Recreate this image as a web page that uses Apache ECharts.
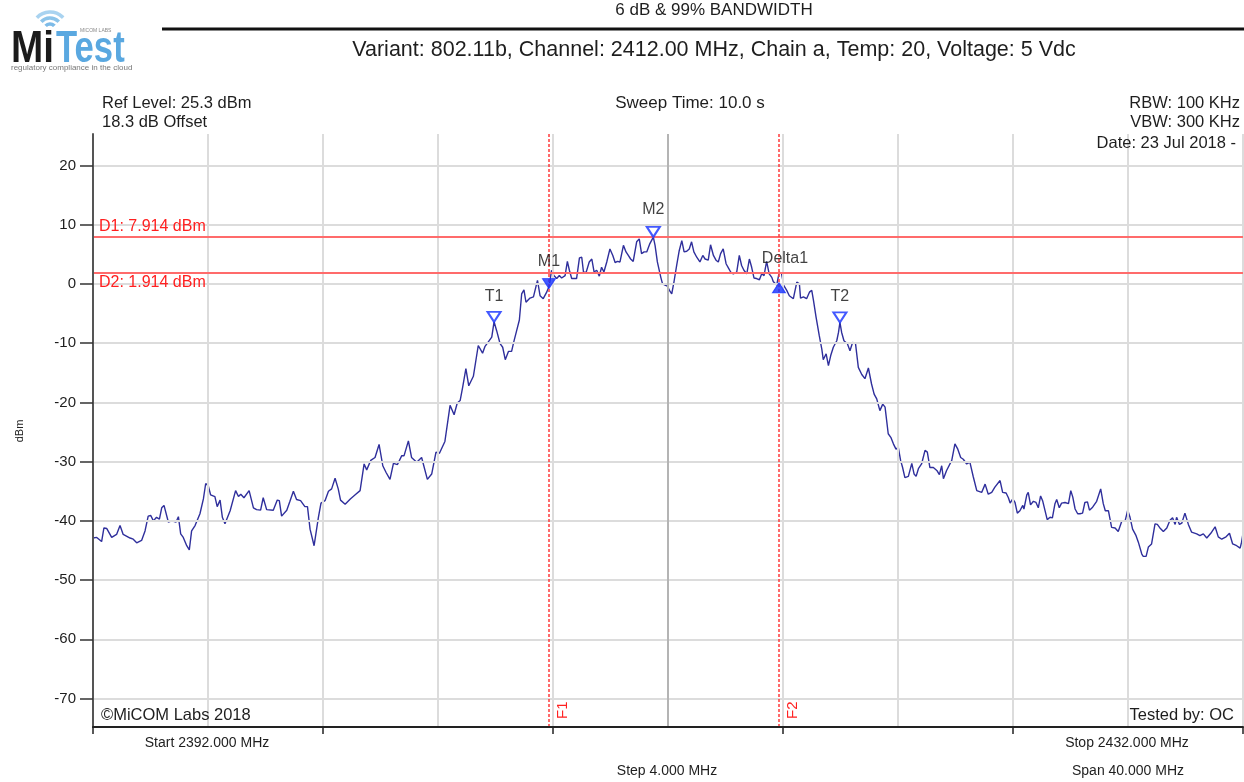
<!DOCTYPE html>
<html>
<head>
<meta charset="utf-8">
<title>6 dB &amp; 99% BANDWIDTH</title>
<script src="https://cdn.jsdelivr.net/npm/echarts@6/dist/echarts.min.js"></script>
<style>
  html, body { margin: 0; padding: 0; background: #fff; }
  #chart { width: 1244px; height: 782px; }
</style>
</head>
<body>
<div id="chart"></div>
<script>
// spectrum trace (MHz / dBm)
const traceFreq = [
  2392.00, 2392.13, 2392.30, 2392.38, 2392.48, 2392.65, 2392.82, 2392.94, 2393.05, 2393.29,
  2393.40, 2393.52, 2393.69, 2393.81, 2393.92, 2394.01, 2394.10, 2394.21, 2394.31, 2394.39,
  2394.47, 2394.62, 2394.74, 2394.89, 2394.97, 2395.05, 2395.14, 2395.26, 2395.35, 2395.43,
  2395.55, 2395.72, 2395.84, 2395.92, 2396.01, 2396.09, 2396.24, 2396.32, 2396.42, 2396.50,
  2396.59, 2396.77, 2396.96, 2397.06, 2397.14, 2397.25, 2397.43, 2397.58, 2397.69, 2397.83,
  2397.92, 2398.04, 2398.27, 2398.41, 2398.48, 2398.56, 2398.74, 2398.85, 2398.97, 2399.08,
  2399.22, 2399.37, 2399.46, 2399.55, 2399.69, 2399.84, 2399.93, 2400.07, 2400.19,
  2400.30, 2400.42, 2400.53, 2400.61, 2400.77, 2400.95, 2401.12, 2401.29, 2401.43, 2401.52,
  2401.66, 2401.81, 2401.95, 2402.08, 2402.19, 2402.33, 2402.45, 2402.59, 2402.74, 2402.82,
  2402.97, 2403.08, 2403.26, 2403.43, 2403.63, 2403.78, 2403.93, 2404.05, 2404.24, 2404.42,
  2404.56, 2404.67, 2404.77, 2404.86, 2404.97, 2405.07, 2405.23, 2405.40, 2405.55, 2405.63,
  2405.75, 2405.87, 2405.95, 2406.04, 2406.16, 2406.25, 2406.34, 2406.45, 2406.56, 2406.64,
  2406.74, 2406.83, 2406.91, 2406.99, 2407.06, 2407.20, 2407.32, 2407.46, 2407.55, 2407.66,
  2407.78, 2407.87, 2407.95, 2408.03, 2408.13, 2408.22, 2408.30, 2408.42, 2408.50, 2408.57,
  2408.65, 2408.71, 2408.82, 2408.92, 2409.00, 2409.06, 2409.15, 2409.26, 2409.35, 2409.43,
  2409.52, 2409.61, 2409.69, 2409.77, 2409.87, 2409.98, 2410.08, 2410.16, 2410.24, 2410.33,
  2410.45, 2410.54, 2410.62, 2410.70, 2410.79, 2410.91, 2411.00, 2411.08, 2411.17, 2411.26,
  2411.37, 2411.49, 2411.55, 2411.63, 2411.75, 2411.81, 2411.90, 2411.98, 2412.05, 2412.13,
  2412.21, 2412.30, 2412.39, 2412.48, 2412.56, 2412.65, 2412.74, 2412.82, 2412.90, 2413.00,
  2413.11, 2413.21, 2413.29, 2413.40, 2413.48, 2413.58, 2413.67, 2413.75, 2413.83, 2413.92,
  2414.02, 2414.10, 2414.18, 2414.27, 2414.39, 2414.48, 2414.56, 2414.64, 2414.74, 2414.83,
  2414.91, 2414.99, 2415.08, 2415.18, 2415.26, 2415.34, 2415.43, 2415.52, 2415.61, 2415.66,
  2415.78, 2415.87, 2415.95, 2416.03, 2416.13, 2416.22, 2416.36, 2416.48, 2416.57, 2416.61,
  2416.71, 2416.82, 2416.92, 2417.00, 2417.06, 2417.15, 2417.26, 2417.35, 2417.40, 2417.50,
  2417.58, 2417.66, 2417.75, 2417.87, 2417.93, 2417.98, 2418.04, 2418.12, 2418.24, 2418.33,
  2418.42, 2418.52, 2418.62, 2418.74, 2418.85, 2418.97, 2419.08, 2419.17, 2419.26, 2419.37,
  2419.47, 2419.55, 2419.66, 2419.75, 2419.84, 2419.93, 2420.01, 2420.09, 2420.16, 2420.24,
  2420.36, 2420.48, 2420.56, 2420.63, 2420.71, 2420.82, 2420.94, 2421.02, 2421.11, 2421.23,
  2421.35, 2421.44, 2421.52, 2421.58, 2421.69, 2421.87, 2421.98, 2422.08, 2422.18, 2422.27,
  2422.39, 2422.50, 2422.62, 2422.74, 2422.91, 2423.03, 2423.14, 2423.26, 2423.37, 2423.55,
  2423.64, 2423.76, 2423.84, 2423.90, 2423.99, 2424.07, 2424.15, 2424.24, 2424.34, 2424.38,
  2424.48, 2424.53, 2424.61, 2424.71, 2424.80, 2424.88, 2424.96, 2425.03, 2425.11, 2425.19,
  2425.29, 2425.37, 2425.46, 2425.52, 2425.61, 2425.69, 2425.81, 2425.93, 2426.01, 2426.08,
  2426.16, 2426.25, 2426.33, 2426.42, 2426.50, 2426.59, 2426.66, 2426.77, 2426.91, 2427.05,
  2427.14, 2427.21, 2427.32, 2427.43, 2427.55, 2427.66, 2427.78, 2427.90, 2427.99, 2428.07,
  2428.16, 2428.28, 2428.36, 2428.48, 2428.53, 2428.63, 2428.71, 2428.82, 2428.94, 2429.02,
  2429.11, 2429.23, 2429.35, 2429.46, 2429.55, 2429.64, 2429.69, 2429.79, 2429.87, 2429.98,
  2430.10, 2430.21, 2430.39, 2430.50, 2430.62, 2430.74, 2430.88, 2431.03, 2431.14, 2431.26,
  2431.41, 2431.53, 2431.64, 2431.78, 2431.90, 2431.95, 2432.00
];
const traceLevel = [
  -42.9, -42.8, -43.5, -41.2, -41.3, -42.8, -42.3, -40.8, -42.3, -42.9,
  -43.1, -43.7, -43.3, -41.7, -39.2, -39.1, -40.0, -39.4, -39.7, -37.8,
  -37.4, -40.2, -40.0, -40.2, -39.3, -42.2, -42.8, -44.2, -44.9, -41.7,
  -40.8, -38.8, -36.3, -33.7, -34.1, -35.6, -35.9, -37.6, -36.5, -39.4,
  -40.5, -38.3, -34.9, -35.9, -35.5, -36.1, -34.9, -37.8, -38.1, -38.2,
  -36.1, -38.1, -38.2, -36.5, -36.6, -39.2, -38.2, -36.7, -35.0, -36.4,
  -36.6, -37.6, -37.6, -41.4, -44.2, -39.4, -37.0, -36.6, -35.0,
  -34.6, -32.8, -34.6, -36.5, -37.2, -36.3, -35.6, -34.9, -30.4, -31.4,
  -29.8, -29.3, -27.1, -30.7, -31.8, -33.0, -30.3, -30.5, -29.0, -29.0,
  -26.5, -29.3, -30.1, -29.3, -33.0, -32.1, -28.4, -28.6, -26.6, -20.5,
  -22.1, -20.1, -19.7, -17.4, -14.3, -17.2, -15.6, -10.4, -11.7, -10.6,
  -9.8, -9.0, -6.4, -7.9, -10.1, -10.7, -12.8, -11.4, -11.4, -9.7,
  -7.8, -6.1, -1.7, -1.0, -3.1, -2.4, -2.2, 0.6, -2.0, -2.5,
  -1.4, -0.3, 2.3, 1.4, 0.9, 1.4, 1.0, 1.4, 3.8, 2.3,
  0.9, 0.6, 0.9, 4.4, 4.5, 2.0, 1.9, 3.7, 4.2, 2.0,
  2.3, 1.3, 2.8, 2.0, 3.7, 5.9, 4.8, 3.6, 3.8, 3.7,
  6.5, 5.4, 4.8, 4.2, 3.8, 7.1, 7.6, 5.1, 5.4, 5.4,
  6.8, 7.9, 6.5, 3.7, 1.1, 0.0, -0.2, -0.4, -1.1, -1.7,
  0.4, 3.1, 5.6, 7.3, 5.4, 5.5, 5.9, 7.1, 5.4, 4.5,
  3.7, 4.8, 4.2, 4.0, 6.6, 4.8, 4.0, 3.7, 5.1, 5.9,
  3.4, 2.7, 2.0, 1.7, 2.0, 4.8, 3.1, 2.3, 1.7, 4.2,
  2.8, 1.0, 0.9, 0.7, 1.7, 1.4, 3.8, 1.7, 1.1, 0.4,
  -0.2, 2.0, 1.7, -0.3, -1.1, -2.0, -2.5, 0.3, 0.0, -2.4,
  -2.2, -2.5, -1.4, -1.1, -2.8, -5.6, -8.7, -11.0, -12.8, -11.8,
  -13.8, -12.1, -10.7, -9.6, -8.2, -6.5, -8.2, -9.6, -10.1, -11.3,
  -9.9, -10.0, -14.1, -15.3, -16.0, -14.2, -16.9, -18.6, -19.4, -21.4,
  -20.3, -20.8, -25.3, -25.9, -27.0, -27.9, -27.6, -29.8, -31.0, -32.7,
  -32.5, -30.3, -32.1, -32.5, -31.2, -30.4, -28.1, -28.4, -31.0, -31.0,
  -31.5, -32.2, -30.7, -32.9, -31.5, -29.8, -27.0, -27.9, -29.3, -29.6,
  -30.4, -30.1, -32.6, -34.9, -35.2, -33.8, -35.5, -35.2, -34.3, -33.2,
  -35.2, -35.3, -36.1, -37.0, -36.3, -36.9, -38.7, -38.3, -37.4, -38.0,
  -35.6, -35.2, -37.3, -36.7, -36.9, -37.8, -35.8, -36.6, -38.2, -39.8,
  -39.4, -39.5, -37.1, -36.4, -37.8, -37.0, -36.9, -37.1, -34.9, -36.0,
  -38.0, -38.8, -38.8, -38.7, -36.9, -36.8, -38.2, -37.7, -36.7, -34.6,
  -37.1, -38.3, -38.3, -41.1, -41.2, -41.8, -40.1, -40.0, -38.2, -39.4,
  -41.4, -42.5, -43.6, -45.6, -46.0, -46.0, -44.4, -43.9, -40.5, -40.6,
  -41.2, -41.8, -41.2, -39.9, -39.5, -40.6, -39.4, -40.6, -40.4, -38.7,
  -40.6, -41.9, -42.2, -42.5, -42.2, -42.9, -42.1, -41.0, -42.7, -43.1,
  -42.7, -42.1, -43.9, -44.2, -44.6, -43.6, -42.1
];

// markers
const markerNames = ['T1', 'M1', 'M2', 'Delta1', 'T2'];
const markerFreq = [2405.95, 2407.86, 2411.49, 2415.86, 2417.98];
const markerLevel = [-6.4, -0.8, 7.914, 0.2, -6.5];

// display lines
const displayLineNames = ['D1', 'D2'];
const displayLineLevel = [7.914, 1.914];
const freqLineNames = ['F1', 'F2'];
const freqLineFreq = [2407.86, 2415.86];

// axes
const yTicks = [-70, -60, -50, -40, -30, -20, -10, 0, 10, 20];
const xGrid = [2392, 2396, 2400, 2404, 2408, 2412, 2416, 2420, 2424, 2428, 2432];
const xMajorTicks = [2392, 2400, 2408, 2416, 2424, 2432];
const centerFreq = 2412;

const FONT = '"Liberation Sans", Arial, sans-serif';
const LOGO_FONT = 'bold 45px "Liberation Sans", Arial, sans-serif';
const BLUE = '#1430ff';

const chart = echarts.init(document.getElementById('chart'));

const traceData = traceFreq.map((f, i) => [f, traceLevel[i]]);

// filled triangles for M1 / Delta1, hollow for the others; Delta1 points up
const markerSymbols = markerNames.map((name, i) => {
  const filled = name === 'M1' || name === 'Delta1';
  const up = name === 'Delta1';
  return {
    value: [markerFreq[i], markerLevel[i]],
    symbol: 'triangle',
    symbolSize: [13, 10],
    symbolRotate: up ? 0 : 180,
    symbolOffset: [0, up ? 5 : -5],
    itemStyle: filled
      ? { color: BLUE, borderColor: BLUE, borderWidth: 1 }
      : { color: '#fff', borderColor: BLUE, borderWidth: 2 }
  };
});

const labelDist = { T1: 17, M1: 19, M2: 19, Delta1: 16, T2: 18 };
const markerLabels = markerNames.map((name, i) => ({
  value: [markerFreq[i], markerLevel[i]],
  label: {
    show: true,
    position: 'top',
    distance: labelDist[name],
    offset: name === 'Delta1' ? [6, 0] : [0, 0],
    formatter: name
  }
}));

const txt = (x, y, text, size, align, z) => ({
  type: 'text', x, y, z: z || 0,
  style: { text, font: size + 'px ' + FONT, fill: '#1e1e1e', align: align || 'left', verticalAlign: 'middle' }
});

const option = {
  animation: false,
  backgroundColor: '#fff',
  grid: { left: 93, right: 1, top: 134, bottom: 55 },
  xAxis: {
    type: 'value',
    min: 2392,
    max: 2432,
    z: 6,
    axisLine: { onZero: false, lineStyle: { color: '#222', width: 2 } },
    axisTick: { customValues: xMajorTicks, length: 7, lineStyle: { color: '#222', width: 1.5 } },
    axisLabel: { show: false },
    splitLine: { show: false }
  },
  yAxis: {
    type: 'value',
    min: -74.8,
    max: 25.3,
    z: 6,
    axisLine: { show: true, onZero: false, lineStyle: { color: '#555', width: 2 } },
    axisTick: { show: true, customValues: yTicks, length: 13, lineStyle: { color: '#333', width: 1.5 } },
    axisLabel: { customValues: yTicks, color: '#1e1e1e', fontSize: 15, fontFamily: FONT, margin: 17 },
    splitLine: { show: false }
  },
  graphic: [
    // logo
    { type: 'arc', shape: { cx: 50, cy: 30, r: 6, startAngle: -Math.PI * 0.76, endAngle: -Math.PI * 0.24 },
      style: { stroke: '#7dbbe8', lineWidth: 3.5, fill: null } },
    { type: 'arc', shape: { cx: 50, cy: 30, r: 12, startAngle: -Math.PI * 0.76, endAngle: -Math.PI * 0.24 },
      style: { stroke: '#8cc4ea', lineWidth: 3.5, fill: null } },
    { type: 'arc', shape: { cx: 50, cy: 30, r: 18, startAngle: -Math.PI * 0.76, endAngle: -Math.PI * 0.24 },
      style: { stroke: '#a9d3f0', lineWidth: 3.5, fill: null } },
    { type: 'text', x: 11, y: 27, scaleX: 0.86, style: { text: 'Mi', font: LOGO_FONT, fill: '#1b1b1b' } },
    { type: 'text', x: 56, y: 27, scaleX: 0.77, style: { text: 'Test', font: LOGO_FONT, fill: '#5aa8e0' } },
    { type: 'text', x: 80, y: 28, style: { text: 'MICOM LABS', font: '5px ' + FONT, fill: '#888' } },
    { type: 'text', x: 11, y: 64, style: { text: 'regulatory compliance in the cloud', font: '8px ' + FONT, fill: '#777' } },
    // header
    txt(714, 10, '6 dB & 99% BANDWIDTH', 17, 'center'),
    { type: 'rect', shape: { x: 162, y: 27.5, width: 1082, height: 3 }, style: { fill: '#111' } },
    txt(714, 50, 'Variant: 802.11b, Channel: 2412.00 MHz, Chain a, Temp: 20, Voltage: 5 Vdc', 21.5, 'center'),
    // instrument settings
    txt(102, 103, 'Ref Level: 25.3 dBm', 16.5),
    txt(102, 122, '18.3 dB Offset', 16.5),
    txt(690, 103, 'Sweep Time: 10.0 s', 17, 'center'),
    txt(1240, 103, 'RBW: 100 KHz', 16.5, 'right'),
    txt(1240, 122, 'VBW: 300 KHz', 16.5, 'right'),
    txt(1236, 143, 'Date: 23 Jul 2018 -', 16.5, 'right', 10),
    txt(101, 715, '©MiCOM Labs 2018', 16.5, 'left', 10),
    txt(1234, 715, 'Tested by: OC', 16.5, 'right', 10),
    // frequency axis captions
    txt(207, 743, 'Start 2392.000 MHz', 14, 'center'),
    txt(1127, 743, 'Stop 2432.000 MHz', 14, 'center'),
    txt(667, 771, 'Step 4.000 MHz', 14, 'center'),
    txt(1128, 771, 'Span 40.000 MHz', 14, 'center'),
    // y axis name
    { type: 'text', x: 20, y: 431, rotation: Math.PI / 2,
      style: { text: 'dBm', font: '11px ' + FONT, fill: '#222', align: 'center', verticalAlign: 'middle' } }
  ],
  series: [
    {
      // graticule
      name: 'grid',
      type: 'line',
      data: [],
      silent: true,
      z: 0,
      markLine: {
        silent: true,
        symbol: 'none',
        label: { show: false },
        lineStyle: { color: '#dcdcdc', width: 2, type: 'solid' },
        data: [
          ...yTicks.map(v => ({ yAxis: v })),
          ...xGrid.filter(v => v !== centerFreq && v !== xGrid[0]).map(v => ({ xAxis: v })),
          { xAxis: centerFreq, lineStyle: { color: '#b4b4b4', width: 2, type: 'solid' } }
        ]
      }
    },
    {
      name: 'trace',
      type: 'line',
      data: traceData,
      showSymbol: false,
      z: 3,
      lineStyle: { color: '#2f2f9c', width: 1.4 },
      markLine: {
        silent: true,
        symbol: 'none',
        data: [
          ...displayLineNames.map((name, i) => ({
            yAxis: displayLineLevel[i],
            lineStyle: { color: '#ff6b6b', width: 2, type: 'solid' },
            label: {
              show: true,
              position: i === 0 ? 'insideStartTop' : 'insideStartBottom',
              distance: [6, 2],
              color: '#ff2020',
              fontSize: 16,
              fontFamily: FONT,
              formatter: name + ': ' + displayLineLevel[i].toFixed(3) + ' dBm'
            }
          })),
          ...freqLineNames.map((name, i) => ({
            xAxis: freqLineFreq[i],
            lineStyle: { color: '#ff3a3a', width: 1.5, type: [3, 2] },
            label: {
              show: true,
              position: 'insideStartBottom',
              distance: [8, 6],
              color: '#ff2020',
              fontSize: 15,
              fontFamily: FONT,
              formatter: name
            }
          }))
        ]
      }
    },
    {
      name: 'markers',
      type: 'scatter',
      z: 5,
      data: markerSymbols
    },
    {
      name: 'markerLabels',
      type: 'scatter',
      z: 5,
      symbolSize: 0,
      label: { color: '#111', fontSize: 16, fontFamily: FONT },
      data: markerLabels
    }
  ]
};

chart.setOption(option);
</script>
</body>
</html>
